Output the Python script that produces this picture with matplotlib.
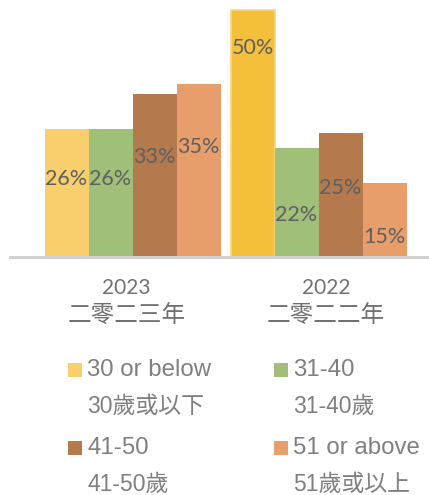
import matplotlib
matplotlib.use("Agg")
import matplotlib.pyplot as plt
from matplotlib.patches import Rectangle
import matplotlib.transforms as mtransforms
import numpy as np

# ---- data ----
categories_year = ["2023", "2022"]
categories_zh = ["二零二三年", "二零二二年"]
series_en = ["30 or below", "31-40", "41-50", "51 or above"]
series_zh = ["30歲或以下", "31-40歲", "41-50歲", "51歲或以上"]
values_2023 = [26, 26, 33, 35]
values_2022 = [50, 22, 25, 15]
labels_2023 = ["26%", "26%", "33%", "35%"]
labels_2022 = ["50%", "22%", "25%", "15%"]

# ---- style ----
colors = ["#F8CF6C", "#A0BF78", "#B5794E", "#E89E6A"]
highlight_color = "#F4BF3A"          # 2022 "30 or below" bar is drawn darker
label_pos_2023 = [15.8, 15.8, 20.2, 22.3]   # label centre heights (data units)
label_pos_2022 = [42.3, 8.5, 14.0, 4.0]

W, H = 429, 495
fig = plt.figure(figsize=(W / 100, H / 100), dpi=100)
ax = fig.add_axes([10 / W, (H - 257) / H, (W - 10) / W, 252 / H])

bw = 0.2366
x = np.arange(len(categories_year))
offsets = (np.arange(4) - 1.5) * bw
data = [values_2023, values_2022]
labs = [labels_2023, labels_2022]
lpos = [label_pos_2023, label_pos_2022]

for ci in range(len(categories_year)):
    for si in range(4):
        col = colors[si]
        ec = "none"
        if ci == 1 and si == 0:
            col = highlight_color
            ec = "#F8D77E"
        ax.bar(x[ci] + offsets[si], data[ci][si], width=bw, color=col,
               edgecolor=ec, linewidth=1.2 if ec != "none" else 0, zorder=2)
        ax.text(x[ci] + offsets[si], lpos[ci][si], labs[ci][si],
                ha="center", va="center", fontsize=15.5, color="#5F5F5F",
                family=["Lato", "DejaVu Sans"], zorder=3)

ax.set_xlim(-0.659, 1.594)
ax.set_ylim(0, 51)
for s in ["left", "right", "top"]:
    ax.spines[s].set_visible(False)
ax.spines["bottom"].set_color("#D0D0D0")
ax.spines["bottom"].set_linewidth(2.2)
ax.set_yticks([])
ax.set_xticks([])

# category labels (two lines, drawn under each group)
shifts = [-6, 7.5]
for ci in range(len(categories_year)):
    tr = ax.get_xaxis_transform() + mtransforms.ScaledTranslation(
        shifts[ci] / 100, 0, fig.dpi_scale_trans)
    ax.text(x[ci], -(288 - 257) / 252, categories_year[ci], transform=tr,
            ha="center", va="center", fontsize=15, color="#707070",
            family=["Lato", "Noto Sans CJK TC"])
    ax.text(x[ci], -(315 - 257) / 252, categories_zh[ci], transform=tr,
            ha="center", va="center", fontsize=17, color="#707070",
            family=["Noto Sans CJK TC"])

# ---- legend (drawn manually) ----
leg_font = ["Liberation Sans", "Noto Sans CJK TC"]
col_x = [68, 274]
row_y = [370, 448]
order = [(0, 0, 0), (1, 1, 0), (2, 0, 1), (3, 1, 1)]
for si, c, r in order:
    sx, sy = col_x[c], row_y[r]
    fig.patches.append(Rectangle((sx / W, (H - sy - 7) / H), 14 / W, 14 / H,
                                 transform=fig.transFigure, facecolor=colors[si],
                                 edgecolor="none"))
    fig.text((sx + 19) / W, (H - sy) / H, series_en[si], ha="left", va="center",
             fontsize=17.3, color="#7F7F7F", family=leg_font)
    fig.text((sx + 19) / W, (H - sy - 36) / H, series_zh[si], ha="left", va="center",
             fontsize=16.5, color="#7F7F7F", family=leg_font)

fig.savefig("out.png", dpi=100)
